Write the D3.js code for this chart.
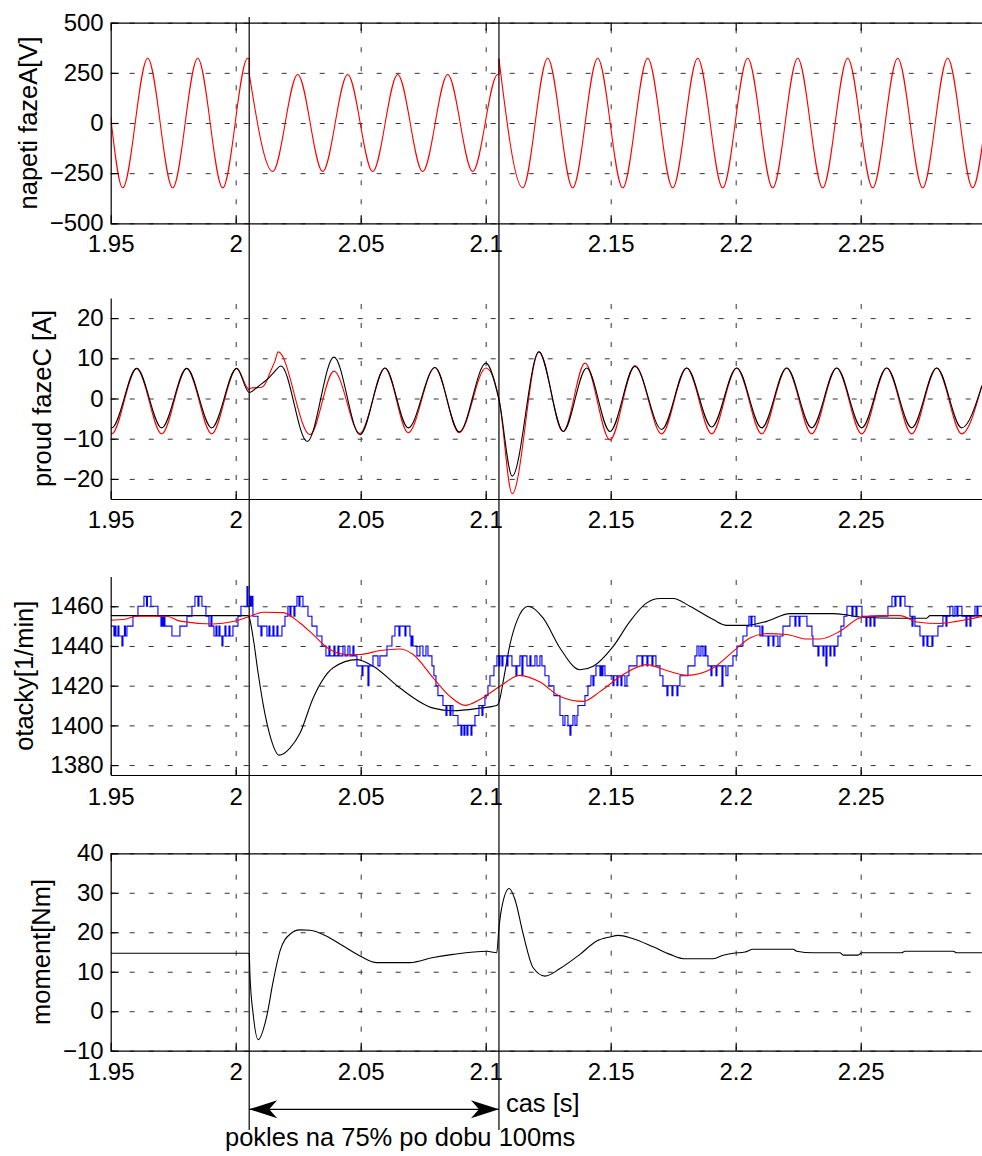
<!DOCTYPE html>
<html>
<head>
<meta charset="utf-8">
<script src="https://cdn.jsdelivr.net/npm/d3@7"></script>
<style>
body { margin: 0; background: #fff; }
svg { display: block; font-family: "Liberation Sans", Arial, sans-serif; }
.grid line { stroke: #333; stroke-width: 1; stroke-dasharray: 5, 14; }
.grid path { display: none; }
.axis path, .axis line { stroke: #000; stroke-width: 1.2; }
.axis text { font-size: 24px; fill: #000; }
.trace { fill: none; stroke-width: 1.1; }
</style>
</head>
<body>
<div id="graph"></div>
<script>
// time axis
var xTicks = [1.95, 2, 2.05, 2.1, 2.15, 2.2, 2.25];
var dipStart = 2.0054, dipEnd = 2.1053;

// panel 1: phase A voltage (before, during and after the sag)
var voltPre = [[1.95,30],[1.9548,-323],[1.9648,323],[1.9748,-323],[1.9848,323],[1.9948,-323],[2.0048,323],[2.0054,321]];
var voltDip = [[2.0054,246],[2.0148,-242],[2.0248,242],[2.0348,-242],[2.0448,242],[2.0548,-242],[2.0648,242],
  [2.0748,-242],[2.0848,242],[2.0948,-242],[2.1048,242],[2.1053,241]];
var voltPost = [[2.1053,320],[2.1148,-323],[2.1248,323],[2.1348,-323],[2.1448,323],[2.1548,-323],[2.1648,323],
  [2.1748,-323],[2.1848,323],[2.1948,-323],[2.2048,323],[2.2148,-323],[2.2248,323],[2.2348,-323],[2.2448,323],
  [2.2548,-323],[2.2648,323],[2.2748,-323],[2.2848,323],[2.2948,-323],[2.3,20]];

// panel 2: phase C current
var currRed = [[1.95,-8.5],[1.9504,-8.8],[1.9604,7.5],[1.9704,-8.8],[1.9804,7.5],[1.9904,-8.8],[2.0004,7.5],
  [2.0054,2.2],[2.0060,2.6],[2.0104,2.8],[2.0125,4.5],[2.0137,6.4],[2.0157,9.3],[2.0170,11.6],[2.0297,-9.0],
  [2.0393,6.8],[2.0497,-8.7],[2.0597,7.6],[2.0690,-8.5],[2.0797,7.7],[2.0894,-8.5],[2.1001,7.6],[2.1053,0],
  [2.1106,-23.7],[2.1213,11.6],[2.1310,-8.2],[2.1397,8.8],[2.1497,-10.3],[2.1597,8.2],[2.1704,-8.8],[2.1804,7.6],
  [2.1904,-8.8],[2.2004,7.6],[2.2104,-8.8],[2.2204,7.6],[2.2304,-8.8],[2.2404,7.6],[2.2504,-8.8],[2.2604,7.6],
  [2.2704,-8.8],[2.2804,7.6],[2.2904,-8.8],[2.2985,3.2]];
var currBlack = [[1.95,-7.2],[1.9504,-7.3],[1.9604,7.5],[1.9704,-7.3],[1.9804,7.5],[1.9904,-7.3],[2.0004,7.5],
  [2.0054,1.5],[2.0090,3.0],[2.0130,5.0],[2.0150,6.3],[2.0181,8.1],[2.0286,-10.7],[2.0393,10.3],[2.0497,-9.0],
  [2.0597,7.6],[2.0690,-7.3],[2.0797,7.7],[2.0894,-8.3],[2.1001,8.8],[2.1053,-0.3],[2.1106,-19.3],[2.1213,11.6],
  [2.1310,-8.2],[2.1404,7.6],[2.1497,-8.2],[2.1597,8.0],[2.1704,-7.7],[2.1804,7.6],[2.1904,-7.1],[2.2004,7.6],
  [2.2104,-7.3],[2.2204,7.6],[2.2304,-7.3],[2.2404,7.6],[2.2504,-7.3],[2.2604,7.6],[2.2704,-7.3],[2.2804,7.6],
  [2.2904,-7.3],[2.2985,3.2]];

// panel 3: speed (model, filtered, measured)
var speedBlack = [[1.95,1455.3],[2.0049,1455.3],[2.0054,1454.5],[2.0070,1444],[2.0089,1427],[2.0110,1410.5],
  [2.0137,1395],[2.0174,1385],[2.0217,1388.6],[2.0257,1396],[2.0310,1413.8],[2.0390,1429],[2.0484,1433.1],
  [2.0550,1429.8],[2.0657,1418.8],[2.0790,1408.7],[2.0870,1407.4],[2.0977,1408.7],[2.1044,1410],[2.1054,1412],
  [2.1070,1422.2],[2.1097,1440.7],[2.1124,1452.4],[2.1170,1460],[2.1230,1454],[2.1297,1439],[2.1377,1428],
  [2.1430,1429.8],[2.1510,1439.8],[2.1577,1452.4],[2.1644,1461.7],[2.1697,1463.9],[2.1750,1463.9],[2.1817,1460],
  [2.1910,1453.3],[2.1964,1450.4],[2.2044,1450.4],[2.2124,1452.4],[2.2217,1456.3],[2.2390,1456.3],[2.2437,1455.8],
  [2.2497,1454.6],[2.2657,1454],[2.2764,1454],[2.2777,1455.3],[2.3,1455.3]];
var speedRed = [[1.95,1453],[1.9557,1453.5],[1.9604,1455],[1.9724,1455],[1.9777,1452.5],[1.9910,1451.1],
  [1.9990,1452.3],[2.0050,1454.6],[2.0110,1457],[2.0189,1456.8],[2.0257,1451.6],[2.0310,1445.7],[2.0377,1438.2],
  [2.0444,1435.7],[2.0497,1435.7],[2.0577,1437.7],[2.0657,1438.5],[2.0710,1435.7],[2.0790,1423.9],[2.0857,1414.6],
  [2.0917,1410.1],[2.0977,1413],[2.1057,1419.7],[2.1137,1425.2],[2.1217,1421.8],[2.1297,1414.6],[2.1390,1412.1],
  [2.1457,1417],[2.1550,1425.6],[2.1644,1430.6],[2.1724,1427.6],[2.1804,1425.2],[2.1910,1428.9],[2.1990,1437.3],
  [2.2057,1444],[2.2124,1446.2],[2.2204,1445.8],[2.2284,1443.5],[2.2337,1443.5],[2.2417,1447.4],[2.2497,1454.1],
  [2.2577,1455.3],[2.2657,1455.3],[2.2724,1452.1],[2.2817,1451.3],[2.2884,1452.4],[2.3,1455.3]];
var speedBlue = [[1.9500,1450],[1.9513,1445],[1.9517,1450],[1.9521,1445],[1.9529,1450],[1.9533,1445],[1.9545,1440],
  [1.9549,1445],[1.9555,1450],[1.9559,1445],[1.9565,1450],[1.9589,1455],[1.9609,1460],[1.9633,1465],[1.9643,1460],
  [1.9647,1465],[1.9661,1460],[1.9689,1455],[1.9701,1450],[1.9705,1455],[1.9709,1450],[1.9713,1455],[1.9717,1450],
  [1.9745,1445],[1.9777,1450],[1.9805,1455],[1.9825,1460],[1.9837,1465],[1.9849,1460],[1.9853,1465],[1.9865,1460],
  [1.9881,1455],[1.9893,1450],[1.9901,1455],[1.9905,1450],[1.9913,1445],[1.9921,1450],[1.9925,1445],[1.9933,1450],
  [1.9937,1445],[1.9945,1440],[1.9949,1445],[1.9957,1450],[1.9961,1445],[1.9973,1450],[1.9977,1445],[1.9989,1450],
  [2.0009,1455],[2.0021,1460],[2.0045,1470],[2.0049,1460],[2.0057,1465],[2.0061,1460],[2.0065,1465],[2.0069,1455],
  [2.0089,1450],[2.0101,1445],[2.0105,1450],[2.0125,1445],[2.0133,1450],[2.0137,1445],[2.0149,1450],[2.0153,1445],
  [2.0165,1450],[2.0169,1445],[2.0185,1450],[2.0197,1455],[2.0209,1460],[2.0217,1455],[2.0221,1460],[2.0233,1455],
  [2.0237,1460],[2.0245,1465],[2.0253,1460],[2.0257,1465],[2.0269,1460],[2.0289,1455],[2.0305,1450],[2.0325,1445],
  [2.0345,1440],[2.0361,1435],[2.0373,1440],[2.0377,1435],[2.0393,1440],[2.0397,1435],[2.0409,1440],[2.0413,1435],
  [2.0429,1440],[2.0437,1435],[2.0449,1440],[2.0457,1435],[2.0469,1440],[2.0473,1435],[2.0485,1430],[2.0505,1425],
  [2.0509,1430],[2.0529,1420],[2.0533,1430],[2.0549,1435],[2.0569,1430],[2.0577,1435],[2.0605,1440],[2.0625,1445],
  [2.0637,1450],[2.0653,1445],[2.0657,1450],[2.0677,1445],[2.0681,1450],[2.0697,1445],[2.0701,1440],[2.0705,1445],
  [2.0709,1440],[2.0725,1435],[2.0737,1440],[2.0749,1435],[2.0761,1440],[2.0769,1435],[2.0785,1430],[2.0793,1425],
  [2.0801,1420],[2.0809,1415],[2.0829,1410],[2.0841,1405],[2.0845,1410],[2.0857,1405],[2.0861,1410],[2.0869,1405],
  [2.0889,1400],[2.0901,1395],[2.0905,1400],[2.0913,1395],[2.0917,1400],[2.0925,1395],[2.0929,1400],[2.0941,1395],
  [2.0945,1400],[2.0957,1405],[2.0973,1410],[2.0985,1405],[2.0989,1410],[2.0997,1415],[2.1009,1420],[2.1017,1425],
  [2.1033,1430],[2.1045,1435],[2.1053,1430],[2.1057,1435],[2.1065,1430],[2.1069,1435],[2.1085,1430],[2.1089,1435],
  [2.1105,1430],[2.1121,1425],[2.1125,1430],[2.1137,1435],[2.1145,1425],[2.1149,1435],[2.1165,1430],[2.1177,1435],
  [2.1181,1430],[2.1197,1435],[2.1205,1430],[2.1217,1435],[2.1225,1430],[2.1237,1425],[2.1253,1420],[2.1273,1415],
  [2.1297,1405],[2.1309,1400],[2.1317,1405],[2.1329,1400],[2.1337,1395],[2.1341,1400],[2.1349,1405],[2.1357,1400],
  [2.1365,1405],[2.1369,1410],[2.1397,1415],[2.1409,1420],[2.1421,1425],[2.1429,1420],[2.1433,1425],[2.1441,1430],
  [2.1457,1425],[2.1461,1430],[2.1465,1425],[2.1469,1430],[2.1477,1425],[2.1509,1420],[2.1513,1425],[2.1525,1420],
  [2.1529,1425],[2.1541,1420],[2.1545,1425],[2.1557,1420],[2.1565,1425],[2.1573,1430],[2.1605,1435],[2.1625,1430],
  [2.1629,1435],[2.1645,1430],[2.1649,1435],[2.1665,1430],[2.1669,1435],[2.1681,1430],[2.1697,1425],[2.1709,1420],
  [2.1725,1415],[2.1729,1420],[2.1745,1415],[2.1749,1420],[2.1765,1415],[2.1769,1420],[2.1777,1425],[2.1809,1430],
  [2.1837,1435],[2.1845,1440],[2.1853,1435],[2.1861,1440],[2.1869,1435],[2.1877,1440],[2.1881,1435],[2.1889,1430],
  [2.1901,1425],[2.1905,1430],[2.1921,1425],[2.1925,1430],[2.1945,1420],[2.1949,1430],[2.1961,1425],[2.1969,1430],
  [2.1989,1435],[2.2005,1440],[2.2029,1445],[2.2045,1450],[2.2053,1455],[2.2061,1450],[2.2065,1455],[2.2077,1450],
  [2.2097,1445],[2.2105,1450],[2.2109,1445],[2.2129,1440],[2.2133,1445],[2.2149,1440],[2.2153,1445],[2.2169,1440],
  [2.2177,1445],[2.2189,1450],[2.2217,1455],[2.2237,1450],[2.2241,1455],[2.2253,1450],[2.2257,1455],[2.2285,1450],
  [2.2305,1445],[2.2309,1440],[2.2329,1435],[2.2333,1440],[2.2349,1435],[2.2353,1440],[2.2361,1430],[2.2365,1440],
  [2.2377,1435],[2.2381,1440],[2.2393,1435],[2.2397,1440],[2.2409,1445],[2.2421,1450],[2.2433,1455],[2.2445,1460],
  [2.2465,1455],[2.2469,1460],[2.2481,1455],[2.2485,1460],[2.2505,1455],[2.2521,1450],[2.2525,1455],[2.2537,1450],
  [2.2541,1455],[2.2553,1450],[2.2557,1455],[2.2609,1460],[2.2625,1465],[2.2637,1460],[2.2641,1465],[2.2657,1460],
  [2.2661,1465],[2.2677,1460],[2.2697,1455],[2.2705,1450],[2.2709,1455],[2.2717,1450],[2.2737,1445],[2.2749,1440],
  [2.2753,1445],[2.2765,1440],[2.2769,1445],[2.2785,1440],[2.2789,1445],[2.2809,1450],[2.2829,1455],[2.2841,1450],
  [2.2845,1455],[2.2857,1460],[2.2869,1455],[2.2877,1460],[2.2885,1455],[2.2889,1460],[2.2905,1455],[2.2921,1450],
  [2.2925,1455],[2.2937,1450],[2.2941,1455],[2.2957,1460],[2.2965,1455],[2.2969,1460],[2.3,1460]];

// panel 4: torque
var torque = [[1.95,14.7],[2.0049,14.7],[2.0054,14.5],[2.0057,9.3],[2.0070,-0.8],[2.0090,-7.2],[2.0123,-1.6],
  [2.0150,7.6],[2.0177,15.2],[2.0217,19.5],[2.0257,20.6],[2.0297,20.5],[2.0364,19.0],[2.0430,16.5],[2.0497,14.0],
  [2.0564,12.3],[2.0697,12.3],[2.0790,13.6],[2.0870,14.4],[2.1004,15.2],[2.1044,14.8],[2.1053,21.1],[2.1064,26.2],
  [2.1094,31.1],[2.1117,28.3],[2.1150,19.5],[2.1190,11.0],[2.1237,8.9],[2.1297,10.8],[2.1377,14.4],[2.1444,17.8],
  [2.1497,18.8],[2.1530,19.2],[2.1584,18.5],[2.1670,16.3],[2.1737,14.4],[2.1790,13.3],[2.1910,13.3],[2.1950,14.2],
  [2.1990,14.7],[2.2037,15.0],[2.2070,15.7],[2.2230,15.7],[2.2244,15.2],[2.2310,14.8],[2.2417,14.8],[2.2430,14.2],
  [2.2490,14.2],[2.2504,14.8],[2.2664,14.8],[2.2677,15.2],[2.2870,15.2],[2.2884,14.8],[2.3,14.8]];

var yLabels = ["napeti fazeA[V]", "proud fazeC [A]", "otacky[1/min]", "moment[Nm]"];
var yDomains = [[-500, 500], [-25, 25], [1375, 1475], [-10, 40]];
var yTicks = [[-500, -250, 0, 250, 500], [-20, -10, 0, 10, 20], [1380, 1400, 1420, 1440, 1460], [-10, 0, 10, 20, 30, 40]];

var width = 982, height = 1156;
var left = 110.7, right = 985.7;
var layout = [
  { top: 22.7, bottom: 223.3, labelX: 37, box: true, pad: 11.5 },
  { top: 298, bottom: 499, labelX: 51, box: false, pad: 12 },
  { top: 576.5, bottom: 775, labelX: 33, box: false, pad: 12.5 },
  { top: 853.3, bottom: 1050.7, labelX: 50, box: true, pad: 12 }
];

var svg = d3.select("#graph").append("svg").attr("width", width).attr("height", height);
var x = d3.scaleLinear().domain([1.95, 2.3]).range([left, right]);

var panels = layout.map(function(L, i) {
  var y = d3.scaleLinear().domain(yDomains[i]).range([L.bottom, L.top]);
  var g = svg.append("g");

  g.append("clipPath").attr("id", "clip" + i).append("rect")
    .attr("x", left).attr("y", L.top).attr("width", right - left).attr("height", L.bottom - L.top);

  g.append("g").attr("class", "grid")
    .attr("transform", "translate(0," + L.bottom + ")")
    .call(d3.axisBottom(x).tickValues(xTicks.slice(1)).tickSize(-(L.bottom - L.top)).tickFormat(""));
  g.append("g").attr("class", "grid")
    .attr("transform", "translate(" + left + ",0)")
    .call(d3.axisLeft(y).tickValues(yTicks[i]).tickSize(-(right - left)).tickFormat(""));

  var layer = g.append("g").attr("clip-path", "url(#clip" + i + ")");

  var bottomAxis = d3.axisBottom(x).tickValues(xTicks).tickFormat(d3.format("")).tickSizeInner(-8).tickSizeOuter(0).tickPadding(L.pad);
  g.append("g").attr("class", "axis").attr("transform", "translate(0," + L.bottom + ")").call(bottomAxis);
  g.append("g").attr("class", "axis").attr("transform", "translate(" + left + ",0)")
    .call(d3.axisLeft(y).tickValues(yTicks[i]).tickFormat(d3.format("d")).tickSizeInner(-8).tickSizeOuter(0).tickPadding(7));
  if (L.box) {
    g.append("g").attr("class", "axis").attr("transform", "translate(0," + L.top + ")")
      .call(d3.axisTop(x).tickValues(xTicks).tickFormat("").tickSizeInner(-8).tickSizeOuter(0));
  }

  g.append("text")
    .attr("transform", "translate(" + L.labelX + "," + (L.top + L.bottom) / 2 + ") rotate(-90)")
    .attr("text-anchor", "middle").attr("font-size", 25.5).text(yLabels[i]);

  return { y: y, layer: layer };
});

function trace(p, data, color, curve) {
  var line = d3.line().x(function(d) { return x(d[0]); }).y(function(d) { return p.y(d[1]); }).curve(curve);
  p.layer.append("path").datum(data).attr("class", "trace").attr("stroke", color).attr("d", line);
}

var smooth = d3.curveMonotoneX;
trace(panels[0], voltPre, "#ff0000", smooth);
trace(panels[0], voltDip, "#ff0000", smooth);
trace(panels[0], voltPost, "#ff0000", smooth);
trace(panels[0], [voltPre[voltPre.length - 1], voltDip[0]], "#ff0000", d3.curveLinear);
trace(panels[0], [voltDip[voltDip.length - 1], voltPost[0]], "#ff0000", d3.curveLinear);

trace(panels[1], currRed, "#ff0000", smooth);
trace(panels[1], currBlack, "#000000", smooth);

trace(panels[2], speedBlack, "#000000", smooth);
trace(panels[2], speedBlue, "#0000ff", d3.curveStepAfter);
trace(panels[2], speedRed, "#ff0000", smooth);

trace(panels[3], torque, "#000000", smooth);

// sag markers and arrow
var ann = svg.append("g");
[dipStart, dipEnd].forEach(function(t) {
  ann.append("line").attr("x1", x(t)).attr("x2", x(t)).attr("y1", 17).attr("y2", 1130)
    .attr("stroke", "#000").attr("stroke-width", 1.2);
});
var arrowY = 1109.3;
ann.append("line").attr("x1", x(dipStart)).attr("x2", x(dipEnd)).attr("y1", arrowY).attr("y2", arrowY)
  .attr("stroke", "#000").attr("stroke-width", 1.2);
[[x(dipStart), 1], [x(dipEnd), -1]].forEach(function(a) {
  var tip = a[0], s = a[1];
  ann.append("path").attr("fill", "#000")
    .attr("d", "M" + tip + "," + arrowY + "L" + (tip + s * 28) + "," + (arrowY - 9) +
      "L" + (tip + s * 20) + "," + arrowY + "L" + (tip + s * 28) + "," + (arrowY + 9) + "Z");
});
ann.append("text").attr("x", x(dipEnd) + 7).attr("y", 1112).attr("font-size", 25.5).text("cas [s]");
ann.append("text").attr("x", 225).attr("y", 1146).attr("font-size", 25.5).text("pokles na 75% po dobu 100ms");
</script>
</body>
</html>
